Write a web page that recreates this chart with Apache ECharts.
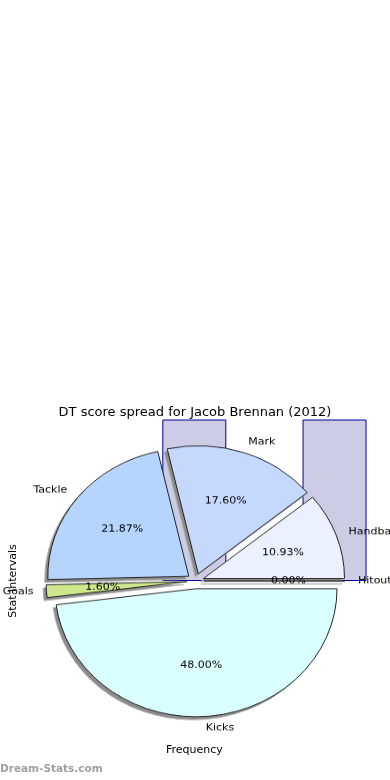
<!DOCTYPE html>
<html>
<head>
<meta charset="utf-8">
<script src="https://cdn.jsdelivr.net/npm/echarts@6/dist/echarts.min.js"></script>
<style>
html, body { margin:0; padding:0; width:390px; height:780px; overflow:hidden; background:#fff; }
#base { position:absolute; left:0; top:0; width:390px; height:780px; }
#pie { position:absolute; left:-60px; top:400px; width:510px; height:400px; transform-origin:0 0; transform:scaleY(0.9078); }
</style>
</head>
<body>
<div id="base"></div>
<div id="pie"></div>
<script>
// ---- data ----
const titleText = 'DT score spread for Jacob Brennan (2012)';
const statNames = ['Kicks', 'Goals', 'Tackle', 'Mark', 'Handball', 'Hitout'];
const statPoints = [180, 6, 82, 66, 41, 0];
const statColors = ['#d9ffff', '#cde88c', '#b5d5ff', '#c5d9ff', '#ebf1ff', '#ffd6d6'];
const intervalCats = ['', '', '', '', ''];
const intervalFreq = ['-', '-', 1.5, '-', 1.5];
const yAxisName = 'Stat Intervals';
const xAxisName = 'Frequency';
const watermark = 'Dream-Stats.com';

const FONT = 'DejaVu Sans';

// ---- base chart: title, background bars, axis names ----
const base = echarts.init(document.getElementById('base'), null, {renderer:'canvas'});
base.setOption({
  animation: false,
  backgroundColor: '#fff',
  title: {
    text: titleText, left: 'center', top: 401,
    textStyle: { fontFamily: FONT, fontSize: 13, fontWeight: 'normal', color: '#000' }
  },
  grid: { left: 18.4, right: 20.4, top: 420, bottom: 38 },
  xAxis: {
    type: 'category', data: intervalCats,
    axisLine: { show: false, onZero: false }, axisTick: { show: false }, axisLabel: { show: false },
    splitLine: { show: false },
    name: xAxisName, nameLocation: 'middle', nameGap: 3,
    nameTextStyle: { fontFamily: FONT, fontSize: 11, color: '#000', verticalAlign: 'top' }
  },
  yAxis: {
    type: 'value', min: -1, max: 1,
    axisLine: { show: false }, axisTick: { show: false }, axisLabel: { show: false },
    splitLine: { show: false },
    name: yAxisName, nameLocation: 'middle', nameGap: 0,
    nameTextStyle: { fontFamily: FONT, fontSize: 11, color: '#000' }
  },
  series: [{
    type: 'bar', data: intervalFreq, barWidth: 64, clip: true, silent: true,
    itemStyle: { color: '#ccccE4', borderColor: '#0000a0', borderWidth: 1 }
  }],
  graphic: [{
    type: 'text', left: 0, top: 764,
    style: { text: watermark, fill: '#a0a0a0', font: 'bold 10.5px "DejaVu Sans"' }
  }]
});

// ---- pie chart ----
const pieData = statNames.map((n, i) => ({
  name: n, value: statPoints[i], selected: true,
  itemStyle: { color: statColors[i] }
}));
const plainData = statNames.map((n, i) => ({ name: n, value: statPoints[i], selected: true }));

const pct = p => p.percent.toFixed(2) + '%';
const common = {
  type: 'pie', startAngle: 0, clockwise: true,
  selectedMode: 'multiple', selectedOffset: 8.5,
  avoidLabelOverlap: false, silent: true,
  emphasis: { disabled: true }
};
const CX = 255.5, CY = 199.4, R = 141;
const pie = echarts.init(document.getElementById('pie'), null, {renderer:'canvas'});
pie.setOption({
  animation: false,
  series: [
    Object.assign({}, common, {
      // drop shadow
      center: [CX - 3, CY + 3.3], radius: R,
      data: plainData,
      itemStyle: { color: '#8c8c8c', borderColor: '#b0b0b0', borderWidth: 1 },
      select: { itemStyle: { color: '#8c8c8c', borderColor: '#b0b0b0', borderWidth: 1 } },
      label: { show: false }, labelLine: { show: false }
    }),
    Object.assign({}, common, {
      center: [CX, CY], radius: R,
      data: pieData,
      itemStyle: { borderColor: '#222', borderWidth: 1 },
      select: { itemStyle: { borderColor: '#222', borderWidth: 1 } },
      label: { show: true, position: 'outside', formatter: '{b}', distanceToLabelLine: 0,
        fontFamily: FONT, fontSize: 11, color: '#000' },
      labelLine: { show: false, length: 13, length2: 0 }
    }),
    Object.assign({}, common, {
      center: [CX, CY], radius: 163,
      data: plainData,
      itemStyle: { color: 'rgba(0,0,0,0)', borderWidth: 0 },
      select: { itemStyle: { color: 'rgba(0,0,0,0)', borderWidth: 0 } },
      label: { show: true, position: 'inside', formatter: pct,
        fontFamily: FONT, fontSize: 11, color: '#000' },
      labelLine: { show: false }
    })
  ]
});
</script>
</body>
</html>
